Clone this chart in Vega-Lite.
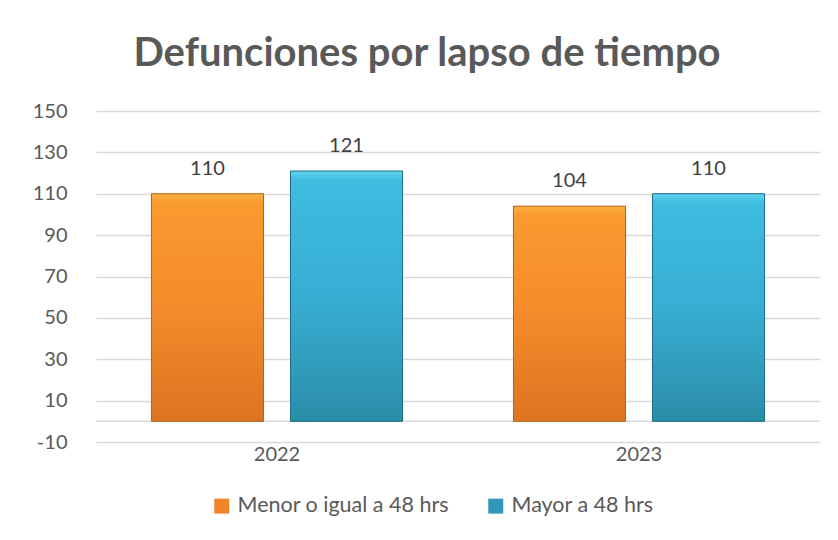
{
  "$schema": "https://vega.github.io/schema/vega-lite/v6.json",
  "autosize": {"type": "none"},
  "width": 724,
  "height": 331,
  "padding": {"left": 96, "top": 111, "right": 18, "bottom": 98},
  "background": "white",
  "config": {"view": {"stroke": null}},
  "title": {
    "text": "Defunciones por lapso de tiempo",
    "font": "Lato",
    "fontSize": 40,
    "fontWeight": "bold",
    "color": "#595959",
    "anchor": "middle",
    "dx": -31,
    "offset": 27
  },
  "data": {
    "values": [
      {"year": "2022", "serie": "Menor o igual a 48 hrs", "value": 110},
      {"year": "2022", "serie": "Mayor a 48 hrs", "value": 121},
      {"year": "2023", "serie": "Menor o igual a 48 hrs", "value": 104},
      {"year": "2023", "serie": "Mayor a 48 hrs", "value": 110}
    ]
  },
  "layer": [
    {
      "data": {"values": [{"v": 0}]},
      "mark": {"type": "rule", "color": "#d9d9d9", "strokeWidth": 1.5},
      "encoding": {"y": {"field": "v", "type": "quantitative"}}
    },
    {
      "mark": {"type": "bar"},
      "encoding": {
        "x": {
          "field": "year", "type": "nominal",
          "scale": {"paddingInner": 0, "paddingOuter": 0},
          "axis": {"title": null, "labelAngle": 0, "domain": false, "ticks": false, "tickSize": 0, "labelPadding": 2, "labelFont": "Lato", "labelFontSize": 20, "labelColor": "#595959", "grid": false}
        },
        "xOffset": {
          "field": "serie", "type": "nominal",
          "sort": ["Menor o igual a 48 hrs", "Mayor a 48 hrs"],
          "scale": {"paddingInner": 0.194, "paddingOuter": 0.399}
        },
        "y": {
          "field": "value", "type": "quantitative",
          "scale": {"domain": [-10, 150], "nice": false},
          "axis": {"title": null, "values": [-10, 10, 30, 50, 70, 90, 110, 130, 150], "labelExpr": "toString(datum.value)", "domain": false, "ticks": false, "tickSize": 0, "labelPadding": 29, "labelFont": "Lato", "labelFontSize": 20, "labelColor": "#595959", "grid": true, "gridColor": "#d9d9d9", "gridWidth": 1.5}
        },
        "y2": {"datum": 0},
        "color": {
          "field": "serie", "type": "nominal",
          "sort": ["Menor o igual a 48 hrs", "Mayor a 48 hrs"],
          "scale": {"domain": ["Menor o igual a 48 hrs", "Mayor a 48 hrs"], "range": ["#F08628", "#3198BA"]},
          "legend": {"title": null, "orient": "none", "legendX": 115, "legendY": 384, "direction": "horizontal", "symbolType": "square", "symbolSize": 225, "symbolStrokeWidth": 0, "labelFont": "Lato", "labelFontSize": 21.5, "labelColor": "#595959", "labelOffset": 5, "labelLimit": 400, "columnPadding": 36}
        }
      }
    },
    {
      "transform": [{"filter": "datum.serie === 'Menor o igual a 48 hrs'"}],
      "mark": {
        "type": "bar",
        "stroke": "#B5631C",
        "strokeWidth": 1,
        "color": {"gradient": "linear", "x1": 0, "y1": 0, "x2": 0, "y2": 1, "stops": [{"offset": 0, "color": "#FBB040"}, {"offset": 0.04, "color": "#F99A30"}, {"offset": 0.5, "color": "#F58B2A"}, {"offset": 1, "color": "#DC7422"}]}
      },
      "encoding": {
        "x": {"field": "year", "type": "nominal"},
        "xOffset": {"field": "serie", "type": "nominal", "sort": ["Menor o igual a 48 hrs", "Mayor a 48 hrs"]},
        "y": {"field": "value", "type": "quantitative"},
        "y2": {"datum": 0}
      }
    },
    {
      "transform": [{"filter": "datum.serie === 'Mayor a 48 hrs'"}],
      "mark": {
        "type": "bar",
        "stroke": "#1E6E82",
        "strokeWidth": 1,
        "color": {"gradient": "linear", "x1": 0, "y1": 0, "x2": 0, "y2": 1, "stops": [{"offset": 0, "color": "#5FD3EE"}, {"offset": 0.04, "color": "#3FBCE0"}, {"offset": 0.5, "color": "#37AED3"}, {"offset": 1, "color": "#2B8DA8"}]}
      },
      "encoding": {
        "x": {"field": "year", "type": "nominal"},
        "xOffset": {"field": "serie", "type": "nominal", "sort": ["Menor o igual a 48 hrs", "Mayor a 48 hrs"]},
        "y": {"field": "value", "type": "quantitative"},
        "y2": {"datum": 0}
      }
    },
    {
      "mark": {"type": "text", "baseline": "alphabetic", "dy": -19, "font": "Lato", "fontSize": 20, "color": "#404040"},
      "encoding": {
        "x": {"field": "year", "type": "nominal"},
        "xOffset": {"field": "serie", "type": "nominal", "sort": ["Menor o igual a 48 hrs", "Mayor a 48 hrs"]},
        "y": {"field": "value", "type": "quantitative"},
        "text": {"field": "value", "type": "quantitative"}
      }
    }
  ]
}
